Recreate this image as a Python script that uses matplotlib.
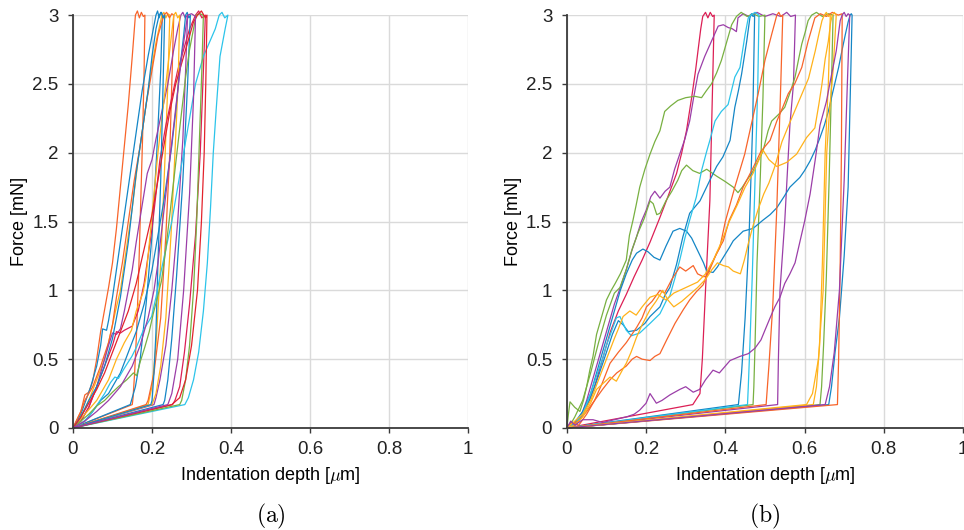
import matplotlib.pyplot as plt

plt.rcParams['font.family'] = ['Liberation Sans', 'DejaVu Sans']
plt.rcParams['mathtext.fontset'] = 'cm'

# Colores de las curvas
naranja = '#f8642a'
azul = '#1486c6'
cian = '#2cc4ea'
morado = '#9b3ea8'
verde = '#78b041'
amarillo = '#ffb21a'
carmin = '#dc1f55'
rojo = '#e3232c'

# Ejes
x_ticks = [0, 0.2, 0.4, 0.6, 0.8, 1]
x_labels = ['0', '0.2', '0.4', '0.6', '0.8', '1']
y_ticks = [0, 0.5, 1, 1.5, 2, 2.5, 3]
y_labels = ['0', '0.5', '1', '1.5', '2', '2.5', '3']

# Panel (a): curvas (profundidad [um], fuerza [mN])
a_curvas = [
    [(0, 0), (0.01, 0.06), (0.02, 0.12), (0.03, 0.24), (0.04, 0.26), (0.05, 0.34), (0.06, 0.5), (0.07, 0.7),
     (0.08, 0.86), (0.09, 1.02), (0.1, 1.2), (0.11, 1.45), (0.12, 1.75), (0.13, 2.05), (0.14, 2.35), (0.15, 2.7),
     (0.158, 3.0), (0.163, 3.03), (0.168, 2.98), (0.173, 3.02), (0.178, 2.99), (0.182, 3.0), (0.18, 2.6),
     (0.176, 2.1), (0.171, 1.6), (0.166, 1.1), (0.161, 0.7), (0.156, 0.4), (0.152, 0.22), (0.15, 0.17), (0, 0)],
    [(0, 0), (0.02, 0.1), (0.03, 0.18), (0.045, 0.3), (0.06, 0.45), (0.07, 0.6), (0.075, 0.72), (0.085, 0.71),
     (0.09, 0.78), (0.1, 0.95), (0.11, 1.15), (0.12, 1.35), (0.135, 1.65), (0.15, 1.95), (0.16, 2.15), (0.175, 2.45),
     (0.19, 2.7), (0.2, 2.85), (0.21, 3.0), (0.214, 3.03), (0.218, 2.98), (0.222, 3.02), (0.226, 3.0), (0.222, 2.6),
     (0.212, 2.0), (0.2, 1.4), (0.185, 0.9), (0.17, 0.5), (0.158, 0.3), (0.145, 0.17), (0, 0)],
    [(0, 0), (0.02, 0.08), (0.04, 0.2), (0.06, 0.35), (0.08, 0.5), (0.09, 0.62), (0.1, 0.75), (0.11, 0.88),
     (0.12, 1.0), (0.135, 1.3), (0.15, 1.6), (0.165, 1.95), (0.18, 2.25), (0.195, 2.55), (0.21, 2.8), (0.225, 3.0),
     (0.23, 3.02), (0.235, 2.98), (0.24, 3.01), (0.245, 3.0), (0.24, 2.5), (0.232, 1.9), (0.222, 1.2), (0.21, 0.6),
     (0.2, 0.3), (0.19, 0.17), (0, 0)],
    [(0, 0), (0.02, 0.12), (0.03, 0.2), (0.04, 0.25), (0.05, 0.3), (0.07, 0.45), (0.09, 0.62), (0.1, 0.75),
     (0.11, 0.95), (0.125, 1.2), (0.14, 1.5), (0.155, 1.8), (0.17, 2.05), (0.185, 2.35), (0.2, 2.6), (0.215, 2.85),
     (0.23, 3.0), (0.237, 3.02), (0.244, 2.98), (0.25, 3.01), (0.255, 3.0), (0.25, 2.5), (0.245, 2.0), (0.235, 1.4),
     (0.222, 0.8), (0.205, 0.4), (0.19, 0.2), (0.185, 0.17), (0, 0)],
    [(0, 0), (0.02, 0.05), (0.04, 0.15), (0.06, 0.3), (0.08, 0.5), (0.09, 0.6), (0.1, 0.69), (0.11, 0.68),
     (0.12, 0.72), (0.13, 0.85), (0.14, 1.0), (0.15, 1.15), (0.16, 1.35), (0.174, 1.6), (0.188, 1.85), (0.2, 1.95),
     (0.21, 2.1), (0.225, 2.3), (0.24, 2.5), (0.255, 2.75), (0.265, 2.9), (0.273, 3.0), (0.278, 3.02), (0.284, 2.98),
     (0.29, 3.0), (0.285, 2.6), (0.278, 2.1), (0.265, 1.5), (0.25, 1.0), (0.235, 0.6), (0.22, 0.35), (0.21, 0.22),
     (0.205, 0.17), (0, 0)],
    [(0, 0), (0.02, 0.05), (0.04, 0.15), (0.06, 0.3), (0.08, 0.45), (0.1, 0.6), (0.11, 0.7), (0.12, 0.69),
     (0.13, 0.71), (0.15, 0.74), (0.165, 0.85), (0.18, 1.05), (0.19, 1.25), (0.2, 1.45), (0.21, 1.7), (0.22, 1.95),
     (0.235, 2.2), (0.25, 2.4), (0.265, 2.6), (0.28, 2.75), (0.295, 2.9), (0.31, 3.0), (0.318, 3.03), (0.326, 2.98),
     (0.335, 3.0), (0.33, 2.6), (0.322, 2.0), (0.31, 1.4), (0.295, 0.9), (0.282, 0.55), (0.27, 0.3), (0.258, 0.2),
     (0.252, 0.17), (0, 0)],
    [(0, 0), (0.03, 0.1), (0.06, 0.2), (0.09, 0.35), (0.11, 0.5), (0.13, 0.62), (0.148, 0.71), (0.16, 0.85),
     (0.177, 0.98), (0.185, 1.1), (0.195, 1.4), (0.205, 1.7), (0.215, 2.0), (0.225, 2.25), (0.235, 2.5),
     (0.245, 2.75), (0.255, 3.0), (0.26, 3.02), (0.265, 2.98), (0.27, 3.0), (0.266, 2.5), (0.258, 2.0),
     (0.248, 1.4), (0.235, 0.8), (0.222, 0.45), (0.21, 0.25), (0.2, 0.17), (0, 0)],
    [(0, 0), (0.02, 0.08), (0.04, 0.2), (0.06, 0.3), (0.08, 0.45), (0.1, 0.65), (0.11, 0.8), (0.12, 0.95),
     (0.13, 1.15), (0.14, 1.35), (0.15, 1.6), (0.16, 1.85), (0.17, 2.05), (0.18, 2.25), (0.19, 2.45), (0.2, 2.7),
     (0.21, 2.9), (0.218, 3.0), (0.224, 3.02), (0.228, 2.98), (0.232, 3.0), (0.228, 2.5), (0.222, 1.8),
     (0.215, 1.2), (0.21, 0.7), (0.205, 0.4), (0.2, 0.2), (0.197, 0.17), (0, 0)],
    [(0, 0), (0.03, 0.05), (0.05, 0.12), (0.07, 0.2), (0.09, 0.25), (0.1, 0.3), (0.12, 0.4), (0.14, 0.55),
     (0.16, 0.7), (0.18, 0.9), (0.2, 1.15), (0.215, 1.4), (0.23, 1.65), (0.24, 1.85), (0.25, 2.05), (0.26, 2.3),
     (0.27, 2.6), (0.28, 2.85), (0.285, 3.0), (0.289, 3.02), (0.293, 2.98), (0.297, 3.0), (0.29, 2.5),
     (0.278, 1.8), (0.262, 1.1), (0.25, 0.65), (0.24, 0.35), (0.232, 0.2), (0.228, 0.17), (0, 0)],
    [(0, 0), (0.02, 0.03), (0.04, 0.08), (0.064, 0.18), (0.08, 0.25), (0.095, 0.33), (0.106, 0.37), (0.115, 0.36),
     (0.127, 0.42), (0.14, 0.48), (0.149, 0.52), (0.161, 0.59), (0.178, 0.71), (0.199, 0.81), (0.21, 0.95),
     (0.22, 1.1), (0.235, 1.3), (0.25, 1.5), (0.265, 1.75), (0.28, 2.0), (0.295, 2.25), (0.31, 2.5), (0.33, 2.7),
     (0.345, 2.8), (0.36, 2.9), (0.37, 3.0), (0.377, 3.02), (0.384, 2.98), (0.392, 3.0), (0.385, 2.9),
     (0.372, 2.7), (0.362, 2.3), (0.355, 2.0), (0.348, 1.6), (0.34, 1.2), (0.33, 0.85), (0.318, 0.55),
     (0.305, 0.35), (0.292, 0.22), (0.283, 0.17), (0, 0)],
    [(0, 0), (0.02, 0.05), (0.04, 0.1), (0.06, 0.16), (0.08, 0.2), (0.1, 0.26), (0.115, 0.3), (0.136, 0.35),
     (0.153, 0.4), (0.161, 0.38), (0.17, 0.48), (0.182, 0.59), (0.193, 0.7), (0.203, 0.83), (0.214, 0.95),
     (0.224, 1.07), (0.235, 1.3), (0.245, 1.55), (0.255, 1.8), (0.265, 2.05), (0.275, 2.3), (0.285, 2.55),
     (0.295, 2.75), (0.305, 2.9), (0.312, 3.0), (0.32, 3.01), (0.33, 3.0), (0.326, 2.6), (0.32, 2.1),
     (0.313, 1.5), (0.305, 1.0), (0.295, 0.6), (0.285, 0.35), (0.275, 0.2), (0.27, 0.17), (0, 0)],
    [(0, 0), (0.02, 0.08), (0.04, 0.18), (0.06, 0.28), (0.08, 0.4), (0.1, 0.55), (0.12, 0.7), (0.14, 0.85),
     (0.16, 1.05), (0.18, 1.3), (0.2, 1.55), (0.215, 1.8), (0.23, 2.05), (0.245, 2.3), (0.26, 2.5), (0.275, 2.65),
     (0.29, 2.8), (0.305, 2.95), (0.315, 3.0), (0.325, 3.03), (0.335, 2.98), (0.339, 3.0), (0.336, 2.5),
     (0.332, 2.0), (0.325, 1.5), (0.315, 1.0), (0.3, 0.6), (0.285, 0.35), (0.27, 0.22), (0.25, 0.17), (0, 0)],
    [(0, 0), (0.03, 0.05), (0.06, 0.12), (0.09, 0.2), (0.12, 0.3), (0.15, 0.45), (0.17, 0.6), (0.19, 0.8),
     (0.205, 1.0), (0.215, 1.2), (0.225, 1.45), (0.235, 1.7), (0.245, 1.95), (0.255, 2.2), (0.265, 2.45),
     (0.275, 2.7), (0.285, 2.9), (0.29, 3.0), (0.3, 3.01), (0.31, 2.99), (0.305, 2.4), (0.295, 1.7),
     (0.28, 1.0), (0.265, 0.5), (0.25, 0.25), (0.24, 0.17), (0, 0)],
]
a_colores = [naranja, azul, amarillo, naranja, morado, carmin, amarillo, azul, azul, cian, verde, rojo, morado]

# Panel (b)
b_curvas = [
    [(0, 0), (0.01, 0.03), (0.02, 0.02), (0.03, 0.05), (0.05, 0.15), (0.07, 0.3), (0.09, 0.5), (0.11, 0.7),
     (0.13, 0.85), (0.15, 0.97), (0.17, 1.1), (0.19, 1.22), (0.21, 1.35), (0.235, 1.53), (0.255, 1.68),
     (0.277, 1.85), (0.29, 2.0), (0.302, 2.16), (0.315, 2.4), (0.325, 2.6), (0.331, 2.74), (0.338, 2.9),
     (0.343, 2.99), (0.35, 3.02), (0.356, 2.98), (0.362, 3.02), (0.368, 2.99), (0.372, 3.0), (0.368, 2.5),
     (0.361, 1.65), (0.35, 1.0), (0.342, 0.5), (0.336, 0.25), (0.318, 0.17), (0, 0)],
    [(0, 0), (0.01, 0.04), (0.02, 0.02), (0.035, 0.08), (0.05, 0.2), (0.065, 0.35), (0.08, 0.5), (0.1, 0.7),
     (0.12, 0.9), (0.135, 1.02), (0.15, 1.15), (0.163, 1.28), (0.176, 1.39), (0.188, 1.5), (0.2, 1.58),
     (0.212, 1.68), (0.222, 1.72), (0.235, 1.67), (0.248, 1.72), (0.26, 1.75), (0.272, 1.88), (0.285, 1.99),
     (0.298, 2.1), (0.31, 2.23), (0.32, 2.4), (0.331, 2.57), (0.348, 2.7), (0.365, 2.81), (0.382, 2.92),
     (0.395, 2.93), (0.407, 2.91), (0.418, 2.9), (0.428, 2.88), (0.432, 2.98), (0.445, 3.01), (0.46, 2.99),
     (0.48, 3.02), (0.5, 2.99), (0.52, 3.01), (0.54, 2.99), (0.555, 3.02), (0.565, 2.99), (0.577, 3.0),
     (0.572, 2.5), (0.563, 2.2), (0.55, 1.5), (0.538, 1.0), (0.534, 0.5), (0.532, 0.17), (0, 0)],
    [(0, 0), (0.004, 0.1), (0.008, 0.19), (0.02, 0.15), (0.033, 0.12), (0.042, 0.2), (0.05, 0.3), (0.058, 0.42),
     (0.066, 0.52), (0.075, 0.68), (0.083, 0.76), (0.092, 0.85), (0.1, 0.93), (0.112, 1.0), (0.122, 1.05),
     (0.135, 1.12), (0.15, 1.22), (0.158, 1.4), (0.167, 1.51), (0.175, 1.62), (0.184, 1.75), (0.197, 1.88),
     (0.21, 1.99), (0.222, 2.08), (0.235, 2.16), (0.247, 2.3), (0.262, 2.34), (0.28, 2.38), (0.3, 2.4),
     (0.323, 2.41), (0.34, 2.4), (0.352, 2.45), (0.365, 2.5), (0.378, 2.58), (0.39, 2.67), (0.403, 2.8),
     (0.416, 2.93), (0.428, 2.99), (0.44, 3.02), (0.455, 2.99), (0.47, 3.01), (0.485, 2.99), (0.5, 3.0),
     (0.495, 2.4), (0.488, 1.8), (0.48, 1.2), (0.475, 0.6), (0.472, 0.3), (0.47, 0.17), (0, 0)],
    [(0, 0), (0.01, 0.03), (0.02, 0.08), (0.04, 0.2), (0.06, 0.4), (0.08, 0.62), (0.1, 0.82), (0.12, 0.98),
     (0.134, 1.02), (0.15, 1.15), (0.165, 1.3), (0.18, 1.42), (0.195, 1.52), (0.21, 1.65), (0.218, 1.63),
     (0.227, 1.55), (0.235, 1.56), (0.25, 1.65), (0.265, 1.72), (0.28, 1.8), (0.29, 1.87), (0.302, 1.91),
     (0.318, 1.87), (0.335, 1.85), (0.353, 1.88), (0.378, 1.83), (0.4, 1.79), (0.42, 1.75), (0.432, 1.71),
     (0.443, 1.75), (0.454, 1.8), (0.467, 1.85), (0.479, 1.92), (0.495, 2.01), (0.508, 2.16), (0.517, 2.23),
     (0.535, 2.28), (0.55, 2.33), (0.565, 2.45), (0.576, 2.55), (0.585, 2.68), (0.593, 2.79), (0.602, 2.88),
     (0.609, 2.96), (0.618, 3.0), (0.63, 3.02), (0.645, 2.99), (0.66, 3.01), (0.672, 3.0), (0.668, 2.5),
     (0.662, 1.8), (0.655, 1.1), (0.648, 0.6), (0.643, 0.3), (0.639, 0.17), (0, 0)],
    [(0, 0), (0.02, 0.04), (0.04, 0.12), (0.06, 0.25), (0.08, 0.45), (0.1, 0.65), (0.12, 0.85), (0.135, 1.0),
     (0.15, 1.12), (0.165, 1.22), (0.176, 1.27), (0.192, 1.3), (0.205, 1.28), (0.22, 1.24), (0.235, 1.22),
     (0.25, 1.32), (0.268, 1.43), (0.285, 1.45), (0.302, 1.43), (0.315, 1.38), (0.33, 1.29), (0.345, 1.2),
     (0.353, 1.14), (0.369, 1.13), (0.38, 1.17), (0.395, 1.24), (0.41, 1.31), (0.42, 1.36), (0.445, 1.43),
     (0.47, 1.45), (0.495, 1.51), (0.513, 1.55), (0.53, 1.6), (0.548, 1.68), (0.563, 1.75), (0.588, 1.82),
     (0.6, 1.87), (0.614, 1.94), (0.627, 2.02), (0.639, 2.11), (0.65, 2.2), (0.66, 2.3), (0.672, 2.45),
     (0.686, 2.62), (0.695, 2.75), (0.703, 2.86), (0.71, 2.95), (0.715, 3.0), (0.718, 3.01), (0.72, 3.0),
     (0.716, 2.5), (0.71, 1.75), (0.7, 1.25), (0.688, 0.8), (0.677, 0.55), (0.668, 0.3), (0.661, 0.17), (0, 0)],
    [(0, 0), (0.02, 0.03), (0.04, 0.1), (0.06, 0.22), (0.08, 0.38), (0.1, 0.55), (0.115, 0.68), (0.13, 0.78),
     (0.142, 0.75), (0.155, 0.7), (0.176, 0.71), (0.197, 0.76), (0.21, 0.81), (0.235, 0.88), (0.247, 0.96),
     (0.26, 1.02), (0.277, 1.19), (0.293, 1.39), (0.31, 1.56), (0.336, 1.65), (0.361, 1.8), (0.378, 1.9),
     (0.394, 1.97), (0.412, 2.09), (0.424, 2.33), (0.433, 2.45), (0.441, 2.57), (0.454, 2.81), (0.462, 2.98),
     (0.466, 3.01), (0.47, 2.99), (0.474, 3.0), (0.469, 2.2), (0.46, 1.4), (0.45, 0.8), (0.441, 0.4),
     (0.433, 0.17), (0, 0)],
    [(0, 0), (0.02, 0.03), (0.04, 0.1), (0.06, 0.25), (0.075, 0.38), (0.09, 0.5), (0.1, 0.6), (0.115, 0.72),
     (0.125, 0.8), (0.134, 0.81), (0.15, 0.71), (0.163, 0.67), (0.184, 0.69), (0.21, 0.76), (0.235, 0.83),
     (0.252, 0.93), (0.26, 0.96), (0.272, 1.08), (0.285, 1.22), (0.298, 1.38), (0.31, 1.51), (0.327, 1.68),
     (0.34, 1.87), (0.353, 2.01), (0.361, 2.09), (0.374, 2.23), (0.39, 2.3), (0.407, 2.35), (0.424, 2.55),
     (0.437, 2.62), (0.45, 2.86), (0.458, 2.98), (0.465, 3.0), (0.475, 3.02), (0.485, 3.0), (0.482, 2.5),
     (0.475, 1.8), (0.468, 1.1), (0.462, 0.6), (0.458, 0.3), (0.456, 0.17), (0, 0)],
    [(0, 0), (0.015, 0.04), (0.03, 0.02), (0.05, 0.1), (0.07, 0.2), (0.09, 0.33), (0.109, 0.47), (0.13, 0.55),
     (0.15, 0.62), (0.176, 0.73), (0.19, 0.8), (0.201, 0.88), (0.215, 0.92), (0.235, 1.0), (0.247, 0.98),
     (0.265, 1.08), (0.285, 1.17), (0.3, 1.14), (0.319, 1.18), (0.33, 1.12), (0.344, 1.1), (0.353, 1.1),
     (0.365, 1.18), (0.378, 1.27), (0.395, 1.36), (0.41, 1.51), (0.428, 1.62), (0.445, 1.75), (0.47, 1.89),
     (0.49, 2.01), (0.513, 2.09), (0.53, 2.23), (0.545, 2.33), (0.559, 2.43), (0.575, 2.5), (0.593, 2.62),
     (0.609, 2.81), (0.626, 2.98), (0.64, 3.01), (0.655, 2.99), (0.67, 3.02), (0.685, 3.0), (0.695, 3.01),
     (0.693, 2.0), (0.69, 1.2), (0.686, 0.5), (0.683, 0.17), (0, 0)],
    [(0, 0), (0.01, 0.03), (0.03, 0.05), (0.05, 0.12), (0.07, 0.2), (0.09, 0.28), (0.109, 0.35), (0.126, 0.4),
     (0.15, 0.45), (0.165, 0.5), (0.176, 0.52), (0.19, 0.5), (0.21, 0.49), (0.222, 0.52), (0.235, 0.54),
     (0.252, 0.64), (0.273, 0.76), (0.294, 0.86), (0.31, 0.93), (0.327, 0.99), (0.344, 1.04), (0.361, 1.17),
     (0.386, 1.31), (0.4, 1.5), (0.424, 1.75), (0.449, 1.99), (0.466, 2.21), (0.483, 2.43), (0.5, 2.67),
     (0.517, 2.86), (0.53, 3.0), (0.535, 3.02), (0.54, 2.99), (0.545, 3.0), (0.54, 2.5), (0.53, 1.6),
     (0.52, 0.9), (0.51, 0.45), (0.503, 0.17), (0, 0)],
    [(0, 0), (0.02, 0.05), (0.04, 0.1), (0.06, 0.2), (0.08, 0.35), (0.1, 0.5), (0.12, 0.65), (0.13, 0.72),
     (0.142, 0.81), (0.159, 0.85), (0.175, 0.82), (0.19, 0.88), (0.21, 0.95), (0.23, 0.97), (0.25, 0.93),
     (0.27, 0.98), (0.3, 1.02), (0.33, 1.06), (0.35, 1.12), (0.37, 1.22), (0.39, 1.35), (0.41, 1.5),
     (0.43, 1.62), (0.45, 1.75), (0.47, 1.85), (0.485, 1.95), (0.495, 2.02), (0.51, 1.95), (0.53, 1.9),
     (0.555, 1.93), (0.58, 1.99), (0.605, 2.11), (0.626, 2.18), (0.636, 2.35), (0.644, 2.5), (0.652, 2.68),
     (0.66, 2.81), (0.666, 2.95), (0.67, 3.0), (0.675, 3.02), (0.68, 3.0), (0.672, 2.6), (0.663, 2.3),
     (0.656, 2.0), (0.647, 1.0), (0.635, 0.5), (0.62, 0.25), (0.605, 0.17), (0, 0)],
    [(0, 0), (0.02, 0.02), (0.04, 0.08), (0.06, 0.18), (0.075, 0.28), (0.09, 0.32), (0.109, 0.37), (0.125, 0.34),
     (0.14, 0.42), (0.15, 0.47), (0.162, 0.55), (0.176, 0.66), (0.19, 0.75), (0.21, 0.86), (0.225, 0.92),
     (0.242, 1.0), (0.255, 0.93), (0.27, 0.88), (0.29, 0.92), (0.31, 0.97), (0.33, 1.02), (0.35, 1.08),
     (0.366, 1.15), (0.38, 1.2), (0.395, 1.18), (0.408, 1.17), (0.42, 1.14), (0.438, 1.12), (0.448, 1.22),
     (0.458, 1.34), (0.47, 1.47), (0.483, 1.59), (0.497, 1.7), (0.51, 1.78), (0.525, 1.9), (0.543, 2.08),
     (0.56, 2.2), (0.585, 2.37), (0.61, 2.54), (0.627, 2.74), (0.636, 2.86), (0.644, 2.96), (0.65, 3.0),
     (0.655, 3.02), (0.66, 2.99), (0.665, 3.0), (0.66, 2.5), (0.652, 2.0), (0.645, 1.2), (0.638, 0.6),
     (0.63, 0.3), (0.622, 0.17), (0, 0)],
    [(0, 0), (0.01, 0.05), (0.02, 0.02), (0.04, 0.06), (0.066, 0.06), (0.09, 0.04), (0.12, 0.06), (0.15, 0.08),
     (0.17, 0.1), (0.184, 0.13), (0.2, 0.18), (0.21, 0.25), (0.226, 0.18), (0.24, 0.2), (0.26, 0.24),
     (0.285, 0.28), (0.3, 0.3), (0.319, 0.26), (0.335, 0.28), (0.35, 0.35), (0.369, 0.42), (0.385, 0.4),
     (0.4, 0.45), (0.412, 0.49), (0.437, 0.52), (0.458, 0.54), (0.475, 0.58), (0.49, 0.64), (0.5, 0.71),
     (0.513, 0.8), (0.525, 0.88), (0.538, 0.95), (0.55, 1.05), (0.563, 1.12), (0.576, 1.2), (0.588, 1.35),
     (0.6, 1.5), (0.614, 1.7), (0.627, 1.95), (0.639, 2.2), (0.655, 2.37), (0.667, 2.55), (0.68, 2.74),
     (0.69, 2.96), (0.695, 3.0), (0.7, 3.02), (0.705, 2.99), (0.71, 3.01), (0.714, 3.0), (0.708, 2.5),
     (0.7, 1.8), (0.688, 1.0), (0.675, 0.55), (0.663, 0.3), (0.652, 0.17), (0, 0)],
]
b_colores = [carmin, morado, verde, verde, azul, azul, cian, naranja, naranja, amarillo, amarillo, morado]


def preparar_eje(ax):
    ax.set_xlim(0, 1)
    ax.set_ylim(0, 3)
    ax.set_xticks(x_ticks)
    ax.set_xticklabels(x_labels)
    ax.set_yticks(y_ticks)
    ax.set_yticklabels(y_labels)
    ax.grid(True, color='#dadada', lw=1)
    ax.set_axisbelow(True)
    for lado in ['top', 'right']:
        ax.spines[lado].set_visible(False)
    for lado in ['left', 'bottom']:
        ax.spines[lado].set_color('#3a3a3a')
        ax.spines[lado].set_linewidth(1.3)
    ax.tick_params(length=3.5, width=1, color='#3a3a3a', labelcolor='#222222', labelsize=13.5)
    ax.tick_params(axis='x', pad=6)
    ax.tick_params(axis='y', pad=7)
    ax.set_xlabel('Indentation depth [$\\mu$m]', fontsize=13, labelpad=5)
    ax.set_ylabel('Force [mN]', fontsize=13, labelpad=3)


def dibujar(ax, curvas, colores):
    for puntos, color in zip(curvas, colores):
        xs = [p[0] for p in puntos]
        fs = [p[1] for p in puntos]
        ax.plot(xs, fs, color=color, lw=0.9, clip_on=False)


fig = plt.figure(figsize=(9.64, 5.30), dpi=100)
ax_a = fig.add_axes([0.0757, 0.1925, 0.41, 0.779])
ax_b = fig.add_axes([0.588, 0.1925, 0.411, 0.779])

preparar_eje(ax_a)
preparar_eje(ax_b)
dibujar(ax_a, a_curvas, a_colores)
dibujar(ax_b, b_curvas, b_colores)

fig.text(0.0757 + 0.205, 0.026, r'$\mathrm{(a)}$', ha='center', va='center', fontsize=17)
fig.text(0.588 + 0.2055, 0.026, r'$\mathrm{(b)}$', ha='center', va='center', fontsize=17)

fig.savefig('out.png', dpi=100)
